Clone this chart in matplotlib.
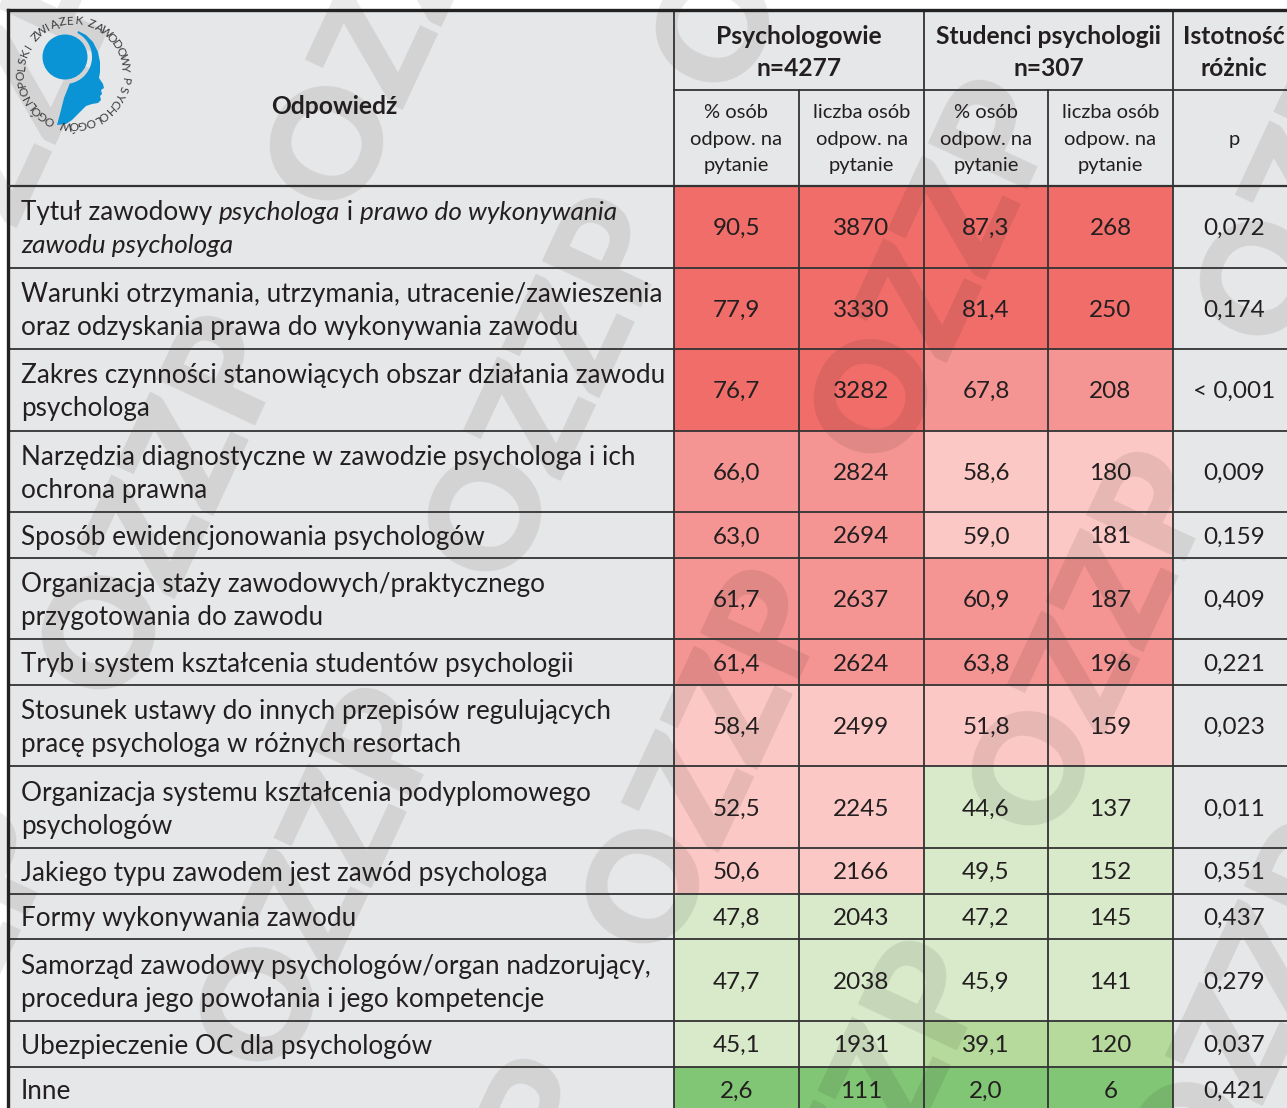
import matplotlib
matplotlib.use("Agg")
import matplotlib.pyplot as plt
from matplotlib.patches import Rectangle, Circle, Polygon
import numpy as np

# ---------------- data ----------------
answers = [
    "Tytuł zawodowy _psychologa_ i _prawo do wykonywania_\n_zawodu psychologa_",
    "Warunki otrzymania, utrzymania, utracenie/zawieszenia\noraz odzyskania prawa do wykonywania zawodu",
    "Zakres czynności stanowiących obszar działania zawodu\npsychologa",
    "Narzędzia diagnostyczne w zawodzie psychologa i ich\nochrona prawna",
    "Sposób ewidencjonowania psychologów",
    "Organizacja staży zawodowych/praktycznego\nprzygotowania do zawodu",
    "Tryb i system kształcenia studentów psychologii",
    "Stosunek ustawy do innych przepisów regulujących\npracę psychologa w różnych resortach",
    "Organizacja systemu kształcenia podyplomowego\npsychologów",
    "Jakiego typu zawodem jest zawód psychologa",
    "Formy wykonywania zawodu",
    "Samorząd zawodowy psychologów/organ nadzorujący,\nprocedura jego powołania i jego kompetencje",
    "Ubezpieczenie OC dla psychologów",
    "Inne",
]
psy_pct = [90.5, 77.9, 76.7, 66.0, 63.0, 61.7, 61.4, 58.4, 52.5, 50.6, 47.8, 47.7, 45.1, 2.6]
psy_n = [3870, 3330, 3282, 2824, 2694, 2637, 2624, 2499, 2245, 2166, 2043, 2038, 1931, 111]
stu_pct = [87.3, 81.4, 67.8, 58.6, 59.0, 60.9, 63.8, 51.8, 44.6, 49.5, 47.2, 45.9, 39.1, 2.0]
stu_n = [268, 250, 208, 180, 181, 187, 196, 159, 137, 152, 145, 141, 120, 6]
p_vals = ["0,072", "0,174", "< 0,001", "0,009", "0,159", "0,409", "0,221",
          "0,023", "0,011", "0,351", "0,437", "0,279", "0,037", "0,421"]

group_titles = ["Psychologowie\nn=4277", "Studenci psychologii\nn=307", "Istotność\nróżnic"]
sub_headers = ["% osób\nodpow. na\npytanie", "liczba osób\nodpow. na\npytanie",
               "% osób\nodpow. na\npytanie", "liczba osób\nodpow. na\npytanie", "p"]
first_header = "Odpowiedź"
watermark = "OZZP"
logo_text = "OGÓLNOPOLSKI ZWIĄZEK ZAWODOWY PSYCHOLOGÓW"

# ---------------- style ----------------
FONT = ["Lato", "DejaVu Sans"]
BG = "#E6E7E8"
LINE = "#333333"
TXT = "#231F20"
W, H = 1287, 1108
col_edges = [8, 674, 799, 924, 1048, 1173, 1298]
head_top, head_mid, head_bot = 10, 90, 186
h_two, h_one = 81.5, 45.7
BODY = 18.8
NUM = 17.5
HEAD = 17.7
SUB = 14.5


def fill_color(p):
    if p >= 70:
        return "#F06D6A"
    if p >= 60:
        return "#F59593"
    if p >= 50:
        return "#FCC8C5"
    if p >= 40:
        return "#D8EACA"
    if p >= 10:
        return "#B5DA9C"
    return "#81C675"


def fmt1(v):
    return f"{v:.1f}".replace(".", ",")


fig = plt.figure(figsize=(W / 100, H / 100), dpi=100)
fig.patch.set_facecolor("white")
ax = fig.add_axes([0, 0, 1, 1])
ax.set_xlim(0, W)
ax.set_ylim(H, 0)
ax.axis("off")
renderer = fig.canvas.get_renderer()

# row geometry
row_tops = []
y = head_bot
for a in answers:
    row_tops.append(y)
    y += h_two if "\n" in a else h_one
row_bots = row_tops[1:] + [y]
table_bottom = y

# background
ax.add_patch(Rectangle((col_edges[0], head_top), col_edges[-1] - col_edges[0],
                       table_bottom - head_top, facecolor=BG, edgecolor="none", zorder=0))

# colored cells
for i in range(len(answers)):
    t, b = row_tops[i], row_bots[i]
    vals = [psy_pct[i], psy_pct[i], stu_pct[i], stu_pct[i]]
    for j in range(4):
        ax.add_patch(Rectangle((col_edges[j + 1], t), col_edges[j + 2] - col_edges[j + 1], b - t,
                               facecolor=fill_color(vals[j]), edgecolor="none", zorder=1))

# watermark lattice (decoration)
ang = np.radians(65)
d = np.array([np.cos(ang), -np.sin(ang)])
nrm = np.array([np.sin(ang), np.cos(ang)])
base = np.array([552.0, 389.0])
for i in range(-6, 7):
    for j in range(-4, 5):
        c = base + i * 300 * nrm + j * 540 * d + (i % 2) * 270 * d
        if -250 < c[0] < W + 250 and -250 < c[1] < H + 250:
            ax.text(c[0], c[1], watermark, rotation=65, rotation_mode="anchor",
                    ha="center", va="center", fontsize=108, fontweight="heavy",
                    family=FONT, color="black", alpha=0.085, zorder=2, clip_on=True)

# grid lines
lw_in = 1.3
for i in range(len(answers)):
    ax.plot([col_edges[0], col_edges[-1]], [row_tops[i]] * 2, color=LINE, lw=lw_in, zorder=3)
ax.plot([col_edges[1], col_edges[-1]], [head_mid] * 2, color=LINE, lw=lw_in, zorder=3)
for k, x in enumerate(col_edges[1:-1], start=1):
    top = head_mid if k in (2, 4) else head_top
    ax.plot([x, x], [top, table_bottom], color=LINE, lw=lw_in, zorder=3)
ax.plot([col_edges[0], col_edges[-1]], [head_top] * 2, color="#222222", lw=2.4, zorder=3)
ax.plot([col_edges[0], col_edges[0]], [head_top, table_bottom], color="#222222", lw=2.4, zorder=3)
ax.plot([col_edges[0], col_edges[-1]], [head_bot] * 2, color=LINE, lw=1.6, zorder=3)

# header texts
ax.text(334, 105, first_header, ha="center", va="center_baseline", fontsize=HEAD,
        fontweight="bold", family=FONT, color=TXT, zorder=4)
group_centers = [(col_edges[1] + col_edges[3]) / 2, (col_edges[3] + col_edges[5]) / 2, 1234]
for gx, gt in zip(group_centers, group_titles):
    for li, line in enumerate(gt.split("\n")):
        ax.text(gx, 34 + li * 33, line, ha="center", va="center_baseline", fontsize=HEAD,
                fontweight="bold", family=FONT, color=TXT, zorder=4)
sub_centers = [(col_edges[j] + col_edges[j + 1]) / 2 for j in range(1, 5)] + [1234]
for sx, st in zip(sub_centers, sub_headers):
    lines = st.split("\n")
    n = len(lines)
    for li, line in enumerate(lines):
        yy = 138 + (li - (n - 1) / 2) * 26.5
        ax.text(sx, yy, line, ha="center", va="center_baseline", fontsize=SUB,
                family=FONT, color=TXT, zorder=4)


# body texts
def draw_rich_line(x, yc, line):
    parts = line.split("_")
    for k, part in enumerate(parts):
        if part == "":
            continue
        italic = (k % 2 == 1)
        t = ax.text(x, yc, part, ha="left", va="center_baseline", fontsize=BODY,
                    family=FONT, style="italic" if italic else "normal", color=TXT, zorder=4)
        bb = t.get_window_extent(renderer=renderer)
        x += bb.width


for i, a in enumerate(answers):
    t, b = row_tops[i], row_bots[i]
    yc = (t + b) / 2
    lines = a.split("\n")
    n = len(lines)
    for li, line in enumerate(lines):
        ly = yc + (li - (n - 1) / 2) * 33
        draw_rich_line(21, ly, line)
    row_vals = [fmt1(psy_pct[i]), str(psy_n[i]), fmt1(stu_pct[i]), str(stu_n[i]), p_vals[i]]
    for sx, v in zip(sub_centers, row_vals):
        ax.text(sx, yc, v, ha="center", va="center_baseline", fontsize=NUM,
                family=FONT, color=TXT, zorder=4)

# ---------------- logo ----------------
BLUE = "#0A93D5"
ax.add_patch(Circle((65, 57), 22.5, facecolor=BLUE, edgecolor="none", zorder=5))
inner_r = 27.0
a0 = np.arctan2(32 - 57, 78 - 65)
a1 = np.arctan2(85 - 57, 70 - 65)
angs = np.linspace(a1, a0, 30)
inner = [(65 + inner_r * np.cos(a), 57 + inner_r * np.sin(a)) for a in angs]
outer = [(78, 31), (86, 35), (93, 42), (98, 52), (100, 62), (100, 72), (99, 78), (103, 84),
         (104, 88), (101, 90), (102, 94), (100, 96), (101, 100), (98, 103), (92, 104),
         (86, 106), (80, 112), (72, 120), (66, 124), (57, 125), (61, 110), (64, 98), (68, 88)]
ax.add_patch(Polygon(outer + inner, closed=True, facecolor=BLUE, edgecolor="none", zorder=5))

lcx, lcy, lr = 73, 73, 52
start, end = 206.0, 548.0
weights = np.array([0.55 if ch == " " else (0.75 if ch in "IL" else 1.0) for ch in logo_text])
cum = np.concatenate([[0], np.cumsum((weights[:-1] + weights[1:]) / 2)])
thetas = start + (end - start) * cum / cum[-1]
for ch, thd in zip(logo_text, thetas):
    th = np.radians(thd)
    px = lcx + lr * np.sin(th)
    py = lcy - lr * np.cos(th)
    ax.text(px, py, ch, rotation=-thd, rotation_mode="anchor",
            ha="center", va="center", fontsize=8.6, family=FONT, color="#3a3a3a", zorder=5)

fig.savefig("out.png", dpi=100, facecolor="white")
